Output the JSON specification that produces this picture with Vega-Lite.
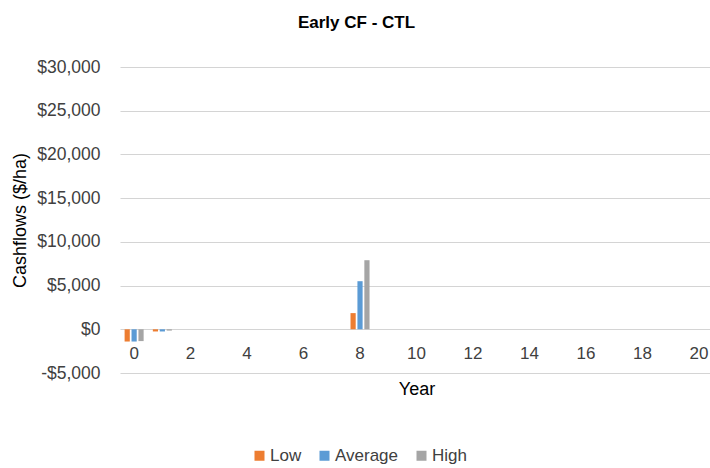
{
  "$schema": "https://vega.github.io/schema/vega-lite/v6.json",
  "width": 593,
  "height": 306,
  "autosize": {"type": "none"},
  "padding": {"left": 120, "top": 67, "right": 0, "bottom": 95},
  "background": "white",
  "title": {"text": "Early CF - CTL", "fontSize": 17, "fontWeight": "bold", "font": "Liberation Sans", "color": "#000000", "anchor": "middle", "dx": -60, "offset": 26},
  "config": {
    "font": "Liberation Sans",
    "view": {"stroke": null},
    "axis": {"labelFont": "Liberation Sans", "titleFont": "Liberation Sans"},
    "legend": {"labelFont": "Liberation Sans"}
  },
  "data": {
    "values": [
      {"year": 0, "scenario": "Low", "value": -1400},
      {"year": 0, "scenario": "Average", "value": -1400},
      {"year": 0, "scenario": "High", "value": -1350},
      {"year": 1, "scenario": "Low", "value": -250},
      {"year": 1, "scenario": "Average", "value": -250},
      {"year": 1, "scenario": "High", "value": -150},
      {"year": 2, "scenario": "Low", "value": 0},
      {"year": 2, "scenario": "Average", "value": 0},
      {"year": 2, "scenario": "High", "value": 0},
      {"year": 3, "scenario": "Low", "value": 0},
      {"year": 3, "scenario": "Average", "value": 0},
      {"year": 3, "scenario": "High", "value": 0},
      {"year": 4, "scenario": "Low", "value": 0},
      {"year": 4, "scenario": "Average", "value": 0},
      {"year": 4, "scenario": "High", "value": 0},
      {"year": 5, "scenario": "Low", "value": 0},
      {"year": 5, "scenario": "Average", "value": 0},
      {"year": 5, "scenario": "High", "value": 0},
      {"year": 6, "scenario": "Low", "value": 0},
      {"year": 6, "scenario": "Average", "value": 0},
      {"year": 6, "scenario": "High", "value": 0},
      {"year": 7, "scenario": "Low", "value": 0},
      {"year": 7, "scenario": "Average", "value": 0},
      {"year": 7, "scenario": "High", "value": 0},
      {"year": 8, "scenario": "Low", "value": 1850},
      {"year": 8, "scenario": "Average", "value": 5500},
      {"year": 8, "scenario": "High", "value": 7900},
      {"year": 9, "scenario": "Low", "value": 0},
      {"year": 9, "scenario": "Average", "value": 0},
      {"year": 9, "scenario": "High", "value": 0},
      {"year": 10, "scenario": "Low", "value": 0},
      {"year": 10, "scenario": "Average", "value": 0},
      {"year": 10, "scenario": "High", "value": 0},
      {"year": 11, "scenario": "Low", "value": 0},
      {"year": 11, "scenario": "Average", "value": 0},
      {"year": 11, "scenario": "High", "value": 0},
      {"year": 12, "scenario": "Low", "value": 0},
      {"year": 12, "scenario": "Average", "value": 0},
      {"year": 12, "scenario": "High", "value": 0},
      {"year": 13, "scenario": "Low", "value": 0},
      {"year": 13, "scenario": "Average", "value": 0},
      {"year": 13, "scenario": "High", "value": 0},
      {"year": 14, "scenario": "Low", "value": 0},
      {"year": 14, "scenario": "Average", "value": 0},
      {"year": 14, "scenario": "High", "value": 0},
      {"year": 15, "scenario": "Low", "value": 0},
      {"year": 15, "scenario": "Average", "value": 0},
      {"year": 15, "scenario": "High", "value": 0},
      {"year": 16, "scenario": "Low", "value": 0},
      {"year": 16, "scenario": "Average", "value": 0},
      {"year": 16, "scenario": "High", "value": 0},
      {"year": 17, "scenario": "Low", "value": 0},
      {"year": 17, "scenario": "Average", "value": 0},
      {"year": 17, "scenario": "High", "value": 0},
      {"year": 18, "scenario": "Low", "value": 0},
      {"year": 18, "scenario": "Average", "value": 0},
      {"year": 18, "scenario": "High", "value": 0},
      {"year": 19, "scenario": "Low", "value": 0},
      {"year": 19, "scenario": "Average", "value": 0},
      {"year": 19, "scenario": "High", "value": 0},
      {"year": 20, "scenario": "Low", "value": 0},
      {"year": 20, "scenario": "Average", "value": 0},
      {"year": 20, "scenario": "High", "value": 0}
    ]
  },
  "mark": {"type": "bar"},
  "encoding": {
    "x": {
      "field": "year",
      "type": "ordinal",
      "scale": {"domain": [0,1,2,3,4,5,6,7,8,9,10,11,12,13,14,15,16,17,18,19,20], "paddingInner": 0.326, "paddingOuter": 0.163},
      "axis": {
        "values": [0,2,4,6,8,10,12,14,16,18,20],
        "labelAngle": 0,
        "domain": false,
        "ticks": false,
        "grid": false,
        "offset": -44,
        "labelPadding": 16,
        "labelFontSize": 17,
        "labelColor": "#404040",
        "title": "Year",
        "titleFontSize": 18,
        "titleFontWeight": "normal",
        "titleColor": "#000000",
        "titlePadding": 19
      }
    },
    "xOffset": {
      "field": "scenario",
      "type": "nominal",
      "scale": {"domain": ["Low", "Average", "High"], "paddingInner": 0.25, "paddingOuter": 0}
    },
    "y": {
      "field": "value",
      "type": "quantitative",
      "scale": {"domain": [-5000, 30000], "nice": false},
      "axis": {
        "values": [-5000, 0, 5000, 10000, 15000, 20000, 25000, 30000],
        "labelExpr": "datum.value < 0 ? '-$' + format(-datum.value, ',') : '$' + format(datum.value, ',')",
        "domain": false,
        "ticks": false,
        "labelPadding": 20,
        "labelFontSize": 17.5,
        "labelColor": "#404040",
        "gridColor": "#d4d4d4",
        "gridWidth": 1.2,
        "title": "Cashflows ($/ha)",
        "titleFontSize": 18,
        "titleFontWeight": "normal",
        "titleColor": "#000000",
        "titlePadding": 7
      }
    },
    "color": {
      "field": "scenario",
      "type": "nominal",
      "scale": {"domain": ["Low", "Average", "High"], "range": ["#ED7D31", "#5B9BD5", "#A5A5A5"]},
      "legend": {
        "title": null,
        "orient": "none",
        "legendX": 131,
        "legendY": 380,
        "direction": "horizontal",
        "symbolType": "square",
        "symbolSize": 100,
        "symbolStrokeWidth": 0,
        "labelFontSize": 17,
        "labelColor": "#404040",
        "labelOffset": 2,
        "columnPadding": 14
      }
    }
  }
}
